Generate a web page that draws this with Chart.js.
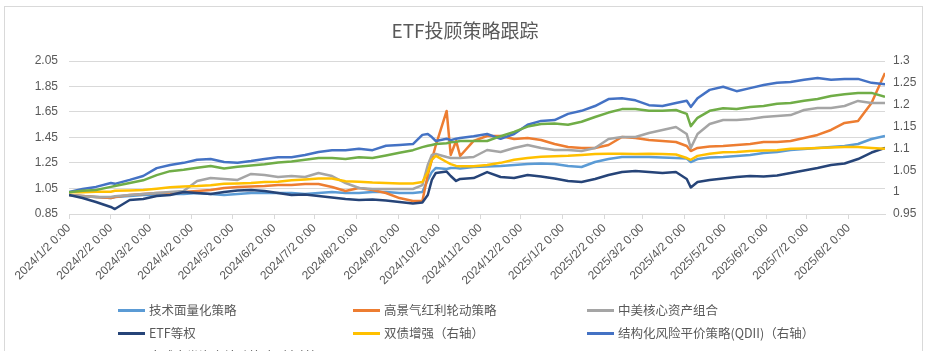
<!DOCTYPE html>
<html>
<head>
<meta charset="utf-8">
<title>ETF投顾策略跟踪</title>
<script src="https://cdn.jsdelivr.net/npm/chart.js@4.4.1/dist/chart.umd.min.js"></script>
<style>
  html, body { margin: 0; padding: 0; background: #fff; }
  #wrap   { position: relative; width: 930px; height: 351px; overflow: hidden; background: #fff; }
  #frame  { position: absolute; left: 4px; top: 6px; width: 919px; height: 370px;
            border: 1px solid #d9d9d9; box-sizing: border-box; pointer-events: none; }
  canvas  { position: absolute; left: 0; top: 0; }
  .item   { position: absolute; white-space: nowrap; line-height: 16px; height: 16px;
            font-family: 'Noto Sans CJK SC', sans-serif; font-size: 12.5px; color: #595959; }
  .item i { display: inline-block; width: 27px; height: 3px; vertical-align: middle;
            margin: -2px 4px 0 0; }
</style>
</head>
<body>
<div id="wrap">
  <canvas id="etfChart" width="930" height="351"></canvas>
  <div id="frame"></div>
  <div id="legend"></div>
</div>
<script>
'use strict';

// ── Data ──────────────────────────────────────────────────────
// x = calendar days since 2024/1/2
const dayIndex = [
  0, 10, 20, 31, 34, 45, 55, 65, 75, 85,
  95, 105, 115, 125, 135, 145, 155, 165, 175, 185,
  195, 205, 215, 225, 235, 245, 255, 262, 266, 269,
  272, 280, 283, 287, 290, 300, 310, 320, 330, 340,
  350, 360, 370, 380, 390, 400, 410, 420, 430, 440,
  450, 458, 461, 466, 475, 485, 495, 505, 515, 525,
  535, 545, 555, 565, 575, 585, 595, 605,
];

const tickDays   = [0, 31, 60, 91, 121, 152, 182, 213, 244, 274, 305, 335, 366, 397, 425, 456, 486, 517, 547, 578];
const tickLabels = [
  '2024/1/2 0:00', '2024/2/2 0:00', '2024/3/2 0:00', '2024/4/2 0:00', '2024/5/2 0:00',
  '2024/6/2 0:00', '2024/7/2 0:00', '2024/8/2 0:00', '2024/9/2 0:00', '2024/10/2 0:00',
  '2024/11/2 0:00', '2024/12/2 0:00', '2025/1/2 0:00', '2025/2/2 0:00', '2025/3/2 0:00',
  '2025/4/2 0:00', '2025/5/2 0:00', '2025/6/2 0:00', '2025/7/2 0:00', '2025/8/2 0:00',
];
const leftTicks  = [0.85, 1.05, 1.25, 1.45, 1.65, 1.85, 2.05];
const rightTicks = [0.95, 1, 1.05, 1.1, 1.15, 1.2, 1.25, 1.3];

// left axis
const techQuant = [
  1.000, 0.991, 0.983, 0.975, 0.983, 0.991, 0.999, 0.999, 1.007, 1.007,
  1.015, 1.007, 0.999, 1.007, 1.015, 1.015, 1.015, 1.015, 1.007, 1.015,
  1.023, 1.015, 1.015, 1.023, 1.023, 1.015, 1.015, 1.023, 1.117, 1.179,
  1.211, 1.203, 1.211, 1.211, 1.207, 1.219, 1.223, 1.226, 1.234, 1.242,
  1.246, 1.242, 1.226, 1.219, 1.258, 1.281, 1.297, 1.297, 1.297, 1.293,
  1.289, 1.285, 1.258, 1.281, 1.293, 1.297, 1.305, 1.313, 1.328, 1.336,
  1.352, 1.360, 1.368, 1.375, 1.383, 1.399, 1.438, 1.462,
];
const highDividend = [
  1.000, 0.991, 0.983, 0.975, 0.983, 0.999, 1.007, 1.015, 1.015, 1.023,
  1.030, 1.038, 1.054, 1.062, 1.066, 1.070, 1.077, 1.077, 1.085, 1.085,
  1.062, 1.030, 1.054, 1.038, 1.015, 0.975, 0.952, 0.952, 1.156, 1.274,
  1.391, 1.658, 1.313, 1.423, 1.305, 1.423, 1.462, 1.462, 1.438, 1.446,
  1.430, 1.399, 1.375, 1.368, 1.368, 1.391, 1.454, 1.446, 1.430, 1.423,
  1.415, 1.383, 1.344, 1.368, 1.379, 1.383, 1.391, 1.399, 1.415, 1.415,
  1.423, 1.446, 1.470, 1.509, 1.564, 1.580, 1.721, 1.956,
];
const sinoUsCore = [
  1.000, 0.990, 0.983, 0.983, 0.990, 0.999, 1.006, 1.015, 1.023, 1.030,
  1.109, 1.132, 1.125, 1.117, 1.164, 1.156, 1.140, 1.148, 1.140, 1.172,
  1.148, 1.093, 1.054, 1.046, 1.046, 1.046, 1.046, 1.077, 1.234, 1.313,
  1.321, 1.297, 1.289, 1.289, 1.289, 1.297, 1.352, 1.336, 1.368, 1.391,
  1.368, 1.352, 1.352, 1.344, 1.368, 1.438, 1.454, 1.454, 1.485, 1.509,
  1.532, 1.477, 1.368, 1.477, 1.556, 1.587, 1.587, 1.595, 1.611, 1.619,
  1.626, 1.666, 1.681, 1.681, 1.697, 1.737, 1.721, 1.721,
];
const etfEqual = [
  1.000, 0.975, 0.944, 0.905, 0.889, 0.960, 0.968, 0.991, 0.999, 1.023,
  1.015, 1.007, 1.023, 1.034, 1.038, 1.030, 1.015, 0.999, 1.003, 0.991,
  0.979, 0.968, 0.960, 0.964, 0.956, 0.944, 0.932, 0.940, 0.999, 1.117,
  1.172, 1.183, 1.148, 1.109, 1.125, 1.132, 1.179, 1.140, 1.132, 1.156,
  1.144, 1.128, 1.109, 1.101, 1.125, 1.156, 1.179, 1.187, 1.179, 1.172,
  1.179, 1.125, 1.058, 1.101, 1.117, 1.128, 1.140, 1.148, 1.144, 1.152,
  1.172, 1.191, 1.211, 1.234, 1.246, 1.281, 1.332, 1.368,
];
// right axis
const dualBond = [
  1.000, 1.000, 1.001, 1.001, 1.003, 1.004, 1.005, 1.008, 1.011, 1.013,
  1.014, 1.016, 1.019, 1.020, 1.021, 1.023, 1.024, 1.027, 1.029, 1.031,
  1.031, 1.025, 1.024, 1.022, 1.021, 1.020, 1.020, 1.023, 1.046, 1.074,
  1.083, 1.069, 1.064, 1.060, 1.059, 1.059, 1.062, 1.067, 1.074, 1.078,
  1.081, 1.082, 1.083, 1.085, 1.087, 1.088, 1.088, 1.087, 1.088, 1.087,
  1.086, 1.078, 1.074, 1.083, 1.088, 1.091, 1.092, 1.094, 1.095, 1.096,
  1.099, 1.100, 1.101, 1.102, 1.103, 1.103, 1.101, 1.099,
];
const qdiiRiskParity = [
  1.000, 1.007, 1.012, 1.021, 1.019, 1.028, 1.037, 1.055, 1.062, 1.067,
  1.074, 1.076, 1.069, 1.067, 1.071, 1.076, 1.080, 1.080, 1.085, 1.092,
  1.096, 1.096, 1.099, 1.096, 1.106, 1.108, 1.110, 1.131, 1.133, 1.126,
  1.117, 1.122, 1.119, 1.122, 1.124, 1.128, 1.133, 1.122, 1.133, 1.154,
  1.163, 1.165, 1.179, 1.186, 1.197, 1.213, 1.215, 1.210, 1.199, 1.197,
  1.204, 1.209, 1.195, 1.215, 1.234, 1.241, 1.231, 1.238, 1.245, 1.250,
  1.252, 1.257, 1.261, 1.257, 1.259, 1.259, 1.250, 1.247,
];
const globalAlloc = [
  1.000, 1.003, 1.005, 1.012, 1.014, 1.021, 1.027, 1.039, 1.048, 1.051,
  1.056, 1.060, 1.054, 1.058, 1.061, 1.064, 1.068, 1.070, 1.074, 1.078,
  1.078, 1.076, 1.080, 1.078, 1.084, 1.090, 1.096, 1.103, 1.106, 1.108,
  1.110, 1.112, 1.114, 1.115, 1.117, 1.117, 1.117, 1.128, 1.138, 1.150,
  1.156, 1.157, 1.154, 1.161, 1.172, 1.182, 1.190, 1.190, 1.186, 1.186,
  1.188, 1.179, 1.151, 1.170, 1.186, 1.192, 1.190, 1.195, 1.197, 1.202,
  1.204, 1.209, 1.213, 1.220, 1.224, 1.227, 1.227, 1.218,
];

// ── Series meta (Excel draw order: later on top) ──────────────
const SERIES = [
  { label: '技术面量化策略',               data: techQuant,      color: '#5b9bd5', axis: 'yL' },
  { label: '高景气红利轮动策略',           data: highDividend,   color: '#ed7d31', axis: 'yL' },
  { label: '中美核心资产组合',             data: sinoUsCore,     color: '#a5a5a5', axis: 'yL' },
  { label: 'ETF等权',                      data: etfEqual,       color: '#264478', axis: 'yL' },
  { label: '双债增强（右轴）',             data: dualBond,       color: '#ffc000', axis: 'yR' },
  { label: '结构化风险平价策略(QDII)（右轴）', data: qdiiRiskParity, color: '#4472c4', axis: 'yR' },
  { label: '全球大类资产轮动策略（右轴）', data: globalAlloc,    color: '#70ad47', axis: 'yR' },
];

// ── Chart defaults ────────────────────────────────────────────
Chart.defaults.color       = '#595959';
Chart.defaults.font.family = "'Liberation Sans', 'Noto Sans', sans-serif";
Chart.defaults.font.size   = 12;

const GRID = '#d9d9d9';

new Chart(document.getElementById('etfChart'), {
  type: 'line',
  data: {
    datasets: SERIES.map((s, i) => ({
      label: s.label,
      data: dayIndex.map((d, k) => ({ x: d, y: s.data[k] })),
      yAxisID: s.axis,
      borderColor: s.color,
      backgroundColor: s.color,
      borderWidth: 2.5,
      borderJoinStyle: 'round',
      pointRadius: 0,
      tension: 0,
      order: SERIES.length - i,
    })),
  },
  options: {
    responsive: false,
    animation: false,
    layout: { padding: 0 },
    plugins: {
      legend:  { display: false },          // HTML legend below
      tooltip: { enabled: false },
      title: {
        display: true,
        text: 'ETF投顾策略跟踪',
        color: '#595959',
        font: { family: "'Noto Sans CJK SC', sans-serif", size: 19, weight: 'normal' },
        padding: { top: 19, bottom: 19.2 },
      },
    },
    scales: {
      x: {
        type: 'linear',
        min: 0,
        max: 605,
        afterFit(scale) { scale.height = 137; },
        afterBuildTicks(scale) { scale.ticks = tickDays.map(v => ({ value: v })); },
        ticks: {
          autoSkip: false,
          minRotation: 45,
          maxRotation: 45,
          padding: 2,
          callback: (v, i) => tickLabels[i],
        },
        grid:   { drawOnChartArea: false, drawTicks: true, tickLength: 5, color: GRID },
        border: { display: true, color: GRID },
      },
      yL: {
        position: 'left',
        min: 0.85,
        max: 2.05,
        afterFit(scale) { scale.width = 69; },
        afterBuildTicks(scale) { scale.ticks = leftTicks.map(v => ({ value: v })); },
        ticks:  { padding: 11, callback: v => v.toFixed(2) },
        grid:   { color: GRID, drawTicks: false },
        border: { display: false },
      },
      yR: {
        position: 'right',
        min: 0.95,
        max: 1.3,
        afterFit(scale) { scale.width = 45; },
        afterBuildTicks(scale) { scale.ticks = rightTicks.map(v => ({ value: v })); },
        ticks:  { padding: 8, callback: v => String(+v.toFixed(2)) },
        grid:   { drawOnChartArea: false, drawTicks: false },
        border: { display: false },
      },
    },
  },
});

// ── HTML legend (Excel style three-column grid) ───────────────
const legendCols = [118, 353, 587];
const legendRows = [302, 325, 348];
const legendEl   = document.getElementById('legend');
SERIES.forEach((s, i) => {
  const el = document.createElement('div');
  el.className = 'item';
  el.style.left = legendCols[i % 3] + 'px';
  el.style.top  = legendRows[Math.floor(i / 3)] + 'px';
  el.innerHTML  = `<i style="background:${s.color}"></i>${s.label}`;
  legendEl.appendChild(el);
});
</script>
</body>
</html>
